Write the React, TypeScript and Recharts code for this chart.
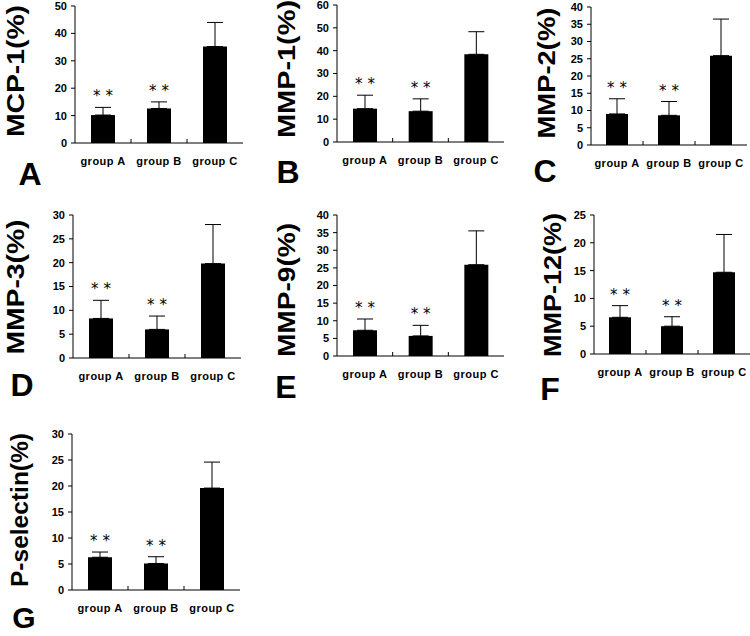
import React from "react"
import { Bar, BarChart, ErrorBar, LabelList, XAxis, YAxis } from "recharts"

const groups = ["group A", "group B", "group C"]
const marks = ["* *", "* *", ""]

const mcp1Mean = [10.2, 12.6, 35.2]
const mcp1Sd = [2.8, 2.4, 8.8]
const mcp1Ticks = [0, 10, 20, 30, 40, 50]

const mmp1Mean = [14.6, 13.5, 38.4]
const mmp1Sd = [5.9, 5.4, 9.9]
const mmp1Ticks = [0, 10, 20, 30, 40, 50, 60]

const mmp2Mean = [9.0, 8.6, 25.9]
const mmp2Sd = [4.4, 4.0, 10.6]
const mmp2Ticks = [0, 5, 10, 15, 20, 25, 30, 35, 40]

const mmp3Mean = [8.3, 6.0, 19.8]
const mmp3Sd = [3.8, 2.8, 8.2]
const mmp3Ticks = [0, 5, 10, 15, 20, 25, 30]

const mmp9Mean = [7.3, 5.7, 25.9]
const mmp9Sd = [3.2, 3.0, 9.6]
const mmp9Ticks = [0, 5, 10, 15, 20, 25, 30, 35, 40]

const mmp12Mean = [6.6, 5.0, 14.7]
const mmp12Sd = [2.1, 1.7, 6.8]
const mmp12Ticks = [0, 5, 10, 15, 20, 25]

const pselMean = [6.3, 5.1, 19.6]
const pselSd = [1.0, 1.3, 5.0]
const pselTicks = [0, 5, 10, 15, 20, 25, 30]

const FONT = "'Liberation Sans', Arial, sans-serif"

// x0/x1: plot left/right, yTop/yZero: pixel rows of max tick and zero
const panels = [
  { title: "MCP-1(%)", letter: "A", mean: mcp1Mean, sd: mcp1Sd, ticks: mcp1Ticks,
    x0: 75, x1: 243, yTop: 6, yZero: 143, bar: 24, tx: 15, ty: 71, tl: 132, lx: 30, ly: 185 },
  { title: "MMP-1(%)", letter: "B", mean: mmp1Mean, sd: mmp1Sd, ticks: mmp1Ticks,
    x0: 337, x1: 504, yTop: 5, yZero: 142, bar: 24, tx: 286, ty: 69, tl: 138, lx: 288, ly: 183 },
  { title: "MMP-2(%)", letter: "C", mean: mmp2Mean, sd: mmp2Sd, ticks: mmp2Ticks,
    x0: 591, x1: 747, yTop: 7, yZero: 145, bar: 22, tx: 546, ty: 73, tl: 131, lx: 545, ly: 182 },
  { title: "MMP-3(%)", letter: "D", mean: mmp3Mean, sd: mmp3Sd, ticks: mmp3Ticks,
    x0: 73, x1: 241, yTop: 215, yZero: 358, bar: 24, tx: 15, ty: 287, tl: 135, lx: 22, ly: 396 },
  { title: "MMP-9(%)", letter: "E", mean: mmp9Mean, sd: mmp9Sd, ticks: mmp9Ticks,
    x0: 337, x1: 504, yTop: 215, yZero: 356, bar: 24, tx: 286, ty: 290, tl: 134, lx: 286, ly: 398 },
  { title: "MMP-12(%)", letter: "F", mean: mmp12Mean, sd: mmp12Sd, ticks: mmp12Ticks,
    x0: 594, x1: 750, yTop: 215, yZero: 354, bar: 22, tx: 552, ty: 285, tl: 144, lx: 550, ly: 400 },
  { title: "P-selectin(%)", letter: "G", mean: pselMean, sd: pselSd, ticks: pselTicks,
    x0: 72, x1: 240, yTop: 434, yZero: 590, bar: 24, tx: 19, ty: 510, tl: 154, lx: 24, ly: 628 },
]

const Y_W = 40
const X_H = 35
const TOP = 10

function GroupTick(props: any) {
  const { x, y, payload, index, band } = props
  return (
    <g>
      <text x={x} y={y + 22} textAnchor="middle" fontSize={11} fontWeight="bold" fill="#000"
        fontFamily={FONT} style={{ letterSpacing: 0.5 }}>
        {payload.value}
      </text>
      {index < groups.length - 1 && (
        <line x1={x + band / 2} x2={x + band / 2} y1={y} y2={y - 4} stroke="#000" />
      )}
    </g>
  )
}

function Stars(props: any) {
  const { x, y, width, height, value, index, sd } = props
  const m = marks[index]
  if (!m) return null
  const top = y - (height * sd[index]) / value
  return (
    <text x={x + width / 2} y={top - 6} textAnchor="middle" fontSize={15}
      fontFamily="'DejaVu Sans', sans-serif" fill="#000">
      {m}
    </text>
  )
}

function Panel({ p }: { p: (typeof panels)[number] }) {
  const data = groups.map((g, i) => ({ group: g, mean: p.mean[i], sd: [0, p.sd[i]] }))
  const w = p.x1 - p.x0 + Y_W
  const h = p.yZero - p.yTop + TOP + X_H
  const band = (p.x1 - p.x0) / groups.length
  const max = p.ticks[p.ticks.length - 1]
  return (
    <div style={{ position: "absolute", left: p.x0 - Y_W, top: p.yTop - TOP }}>
      <BarChart width={w} height={h} data={data} margin={{ top: TOP, right: 0, bottom: 0, left: 0 }}
        style={{ overflow: "visible" }}>
        <XAxis dataKey="group" height={X_H} tickSize={0} tickMargin={0} interval={0}
          axisLine={{ stroke: "#000" }} tickLine={false}
          tick={(t: any) => <GroupTick {...t} band={band} />} />
        <YAxis width={Y_W} domain={[0, max]} ticks={p.ticks} interval={0} tickSize={4} tickMargin={4}
          axisLine={{ stroke: "#000" }} tickLine={{ stroke: "#000" }}
          tick={{ fill: "#000", fontSize: 11, fontWeight: "bold", fontFamily: FONT }} />
        <Bar dataKey="mean" fill="#000" barSize={p.bar} isAnimationActive={false}>
          <ErrorBar dataKey="sd" width={8} stroke="#000" strokeWidth={1} isAnimationActive={false} />
          <LabelList dataKey="mean" content={(lp: any) => <Stars {...lp} sd={p.sd} />} />
        </Bar>
      </BarChart>
    </div>
  )
}

export default function App() {
  return (
    <div style={{ position: "absolute", left: 0, top: 0, width: 750, height: 636, background: "#fff" }}>
      <svg width={750} height={636} style={{ position: "absolute", left: 0, top: 0 }}>
        {panels.map((p) => (
          <g key={p.letter} fontFamily={FONT} fontWeight="bold" fill="#000">
            <text x={p.tx} y={p.ty} transform={`rotate(-90 ${p.tx} ${p.ty})`} textAnchor="middle"
              dominantBaseline="central" fontSize={24} textLength={p.tl} lengthAdjust="spacingAndGlyphs">
              {p.title}
            </text>
            <text x={p.lx} y={p.ly} textAnchor="middle" fontSize={p.letter === "G" ? 30 : 32}>
              {p.letter}
            </text>
          </g>
        ))}
      </svg>
      {panels.map((p) => (
        <Panel key={p.letter} p={p} />
      ))}
    </div>
  )
}
